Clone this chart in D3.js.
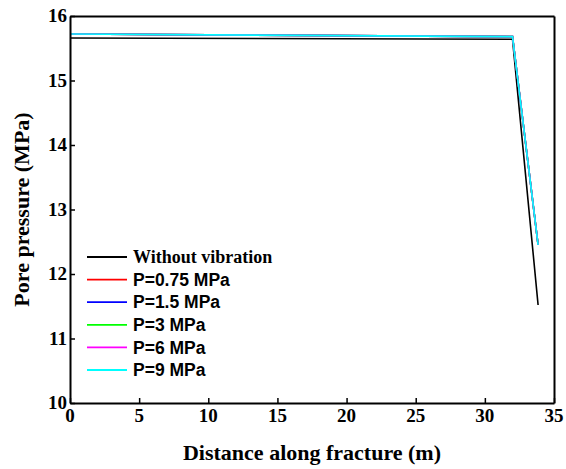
<!DOCTYPE html>
<html><head><meta charset="utf-8">
<script src="https://cdn.jsdelivr.net/npm/d3@7"></script>
<style>body{margin:0;background:#fff}</style>
</head><body><svg id="c" width="566" height="469"></svg>
<script>
const seriesNames = ["Without vibration","P=0.75 MPa","P=1.5 MPa","P=3 MPa","P=6 MPa","P=9 MPa"];
const seriesColors = ["#000000","#ff0000","#0000ff","#00ff00","#ff00ff","#00ffff"];
const distances = [0, 32.0, 33.85];
const withoutVibration = [15.66, 15.64, 11.52];
const p075 = [15.72, 15.68, 12.45];
const p15 = [15.72, 15.68, 12.45];
const p3 = [15.72, 15.68, 12.45];
const p6 = [15.72, 15.68, 12.45];
const p9 = [15.72, 15.68, 12.45];
const allValues = [withoutVibration, p075, p15, p3, p6, p9];
const xTicks = [0,5,10,15,20,25,30,35];
const yTicks = [10,11,12,13,14,15,16];

const svg = d3.select("#c");
const L=70, R=554, T=16, B=403;
const x = d3.scaleLinear().domain([0,35]).range([L,R]);
const y = d3.scaleLinear().domain([10,16]).range([B,T]);
const serif = "Liberation Serif, Times New Roman, serif";
const sans = "Liberation Sans, Arial, sans-serif";

const line = d3.line().x((d,i)=>x(distances[i])).y(d=>y(d));
allValues.forEach((vals,k)=>{
  svg.append("path").attr("d", line(vals)).attr("fill","none")
    .attr("stroke", seriesColors[k]).attr("stroke-width",1.6);
});

const xb = svg.append("g").attr("transform",`translate(0,${B})`).call(d3.axisBottom(x).tickValues(xTicks).tickFormat("").tickSizeInner(-5).tickSizeOuter(0));
const xt = svg.append("g").attr("transform",`translate(0,${T})`).call(d3.axisTop(x).tickValues([]).tickSizeOuter(0));
const yl = svg.append("g").attr("transform",`translate(${L},0)`).call(d3.axisLeft(y).tickValues(yTicks).tickFormat("").tickSizeInner(-5).tickSizeOuter(0));
const yr = svg.append("g").attr("transform",`translate(${R},0)`).call(d3.axisRight(y).tickValues([]).tickSizeOuter(0));
[xb,xt,yl,yr].forEach(g=>{
  g.select(".domain").attr("stroke","#000").attr("stroke-width",2);
  g.selectAll(".tick line").attr("stroke","#000").attr("stroke-width",1.5);
});

svg.selectAll("text.xl").data(xTicks).enter().append("text").attr("class","xl")
  .attr("x",d=>x(d)).attr("y",B+19).attr("text-anchor","middle")
  .style("font-family",serif).style("font-weight","bold").style("font-size","19px").text(d=>d);
svg.selectAll("text.yl").data(yTicks).enter().append("text").attr("class","yl")
  .attr("x",L-3).attr("y",d=>y(d)+6).attr("text-anchor","end")
  .style("font-family",serif).style("font-weight","bold").style("font-size","19px").text(d=>d);

svg.append("text").attr("x",(L+R)/2).attr("y",460).attr("text-anchor","middle")
  .style("font-family",serif).style("font-weight","bold").style("font-size","22px").text("Distance along fracture (m)");
svg.append("text").attr("transform",`translate(29,${(T+B)/2}) rotate(-90)`).attr("text-anchor","middle")
  .style("font-family",serif).style("font-weight","bold").style("font-size","22px").text("Pore pressure (MPa)");

seriesNames.forEach((n,i)=>{
  const yy = 257 + i*22.6;
  svg.append("line").attr("x1",87).attr("x2",127).attr("y1",yy).attr("y2",yy)
    .attr("stroke",seriesColors[i]).attr("stroke-width",1.8);
  svg.append("text").attr("x",133).attr("y",yy).attr("dy","0.35em")
    .style("font-family", i===0?serif:sans).style("font-weight","bold")
    .style("font-size", i===0?"18px":"17.5px").text(n);
});
</script></body></html>
